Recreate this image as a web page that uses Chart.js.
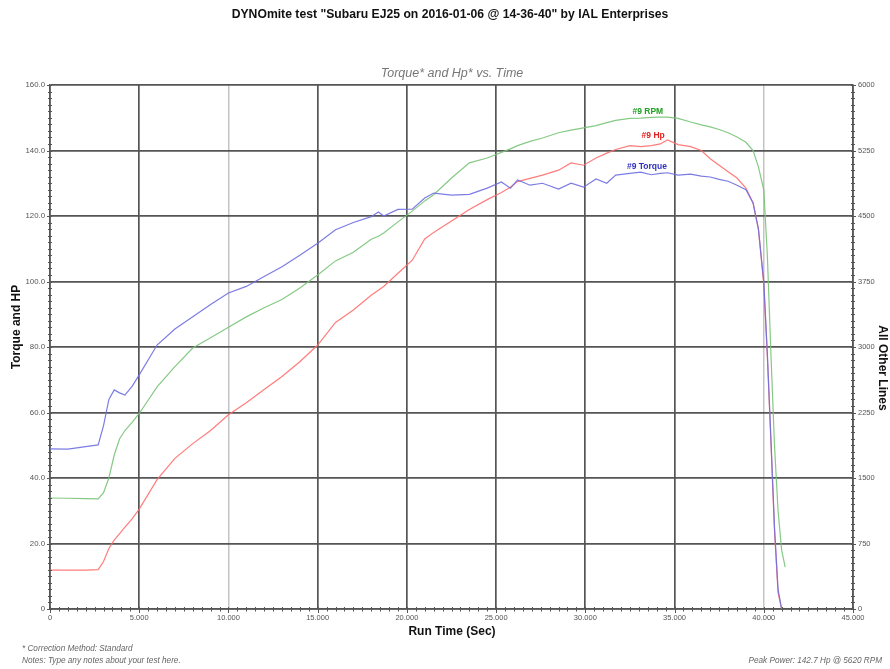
<!DOCTYPE html>
<html>
<head>
<meta charset="utf-8">
<script src="https://cdn.jsdelivr.net/npm/chart.js@4/dist/chart.umd.min.js"></script>
<style>
html,body{margin:0;padding:0;background:#fff;}
#wrap{width:890px;height:669px;position:relative;}
</style>
</head>
<body>
<div id="wrap"><canvas id="c" width="890" height="669"></canvas></div>
<script>
// ---- Data ----
const runTime = [0,1,2,2.7,3.0,3.3,3.6,3.9,4.2,4.6,5,6,7,8,9,10,11,12,13,14,15,16,17,18,18.4,18.7,19.5,20.3,21,21.5,22.5,23.5,24.5,25.3,25.8,26.2,26.9,27.6,28.5,29.2,29.9,30.6,31.2,31.7,32.5,33.1,33.7,34.2,34.6,35.2,35.9,36.5,37,37.5,38,38.5,39,39.4,39.7,40,40.2,40.4,40.6,40.8,41,41.2];
const torque = [48.9,48.8,49.6,50.1,56,64,66.9,66.0,65.3,68,71.5,80.6,85.5,89.2,93,96.5,98.5,101.5,104.5,108,111.7,115.8,118,119.8,121.2,120,122,122.1,125.5,127,126.4,126.6,128.5,130.4,128.5,131,129.4,130,128.2,130,128.8,131.3,130,132.5,133,133.4,132.6,133,133.2,132.5,132.8,132.2,131.9,131.2,130.6,129.4,128,124,116,100,78,52,25,6,0,null];
const hp = [11.9,11.9,11.9,12,14.5,18.5,21,23,25,27.5,30.5,39.5,46,50.5,54.5,59.3,63,67,71,75.5,80.6,87.5,91.3,95.8,97.3,98.5,102.5,106.5,113,115,118.5,122,125,127.2,128.8,130.5,131.5,132.5,134,136.2,135.5,137.7,139.2,140.3,141.5,141.2,141.5,142,143.2,141.8,141.2,140,137.5,135.5,133.5,131.6,128.5,124,116,99,77,51,24,5,0,null];
const rpm = [1271,1268,1264,1260,1331,1500,1763,1950,2044,2138,2239,2543,2775,2989,3105,3225,3345,3450,3544,3675,3825,3986,4084,4234,4268,4305,4433,4556,4673,4744,4935,5108,5164,5228,5269,5306,5355,5393,5453,5483,5509,5535,5569,5595,5618,5621,5629,5633,5633,5618,5576,5543,5520,5490,5453,5404,5344,5250,5063,4800,4050,2925,1875,1125,675,480];
const leftTicks = [0,20,40,60,80,100,120,140,160];
const rightTicks = [0,750,1500,2250,3000,3750,4500,5250,6000];
const timeTicks = [0,5,10,15,20,25,30,35,40,45];
const seriesNames = ["#9 Torque","#9 Hp","#9 RPM"];
const labelPos = [[33.45,135],[33.8,144.4],[33.5,152]]; // [time, left-axis value] for series labels

const FONT = "'Liberation Sans', Arial, sans-serif";
const pts = (ys) => runTime.map((t,i)=>({x:t,y:ys[i]}));

const overlay = {
  id:'overlay',
  afterDraw(chart){
    const ctx = chart.ctx;
    const xs = chart.scales.x, yl = chart.scales.y;
    const a = chart.chartArea;
    ctx.save();
    // minor/major tick marks
    ctx.strokeStyle = '#555'; ctx.lineWidth = 1;
    ctx.beginPath();
    for (let v=0; v<=160.001; v+=2){
      const y = Math.round(yl.getPixelForValue(v))+0.5;
      const major = Math.abs(v/20 - Math.round(v/20))<1e-6;
      ctx.moveTo(a.left-(major?3:2), y); ctx.lineTo(a.left+2, y);
      ctx.moveTo(a.right-2, y); ctx.lineTo(a.right+(major?3:2), y);
    }
    for (let t=0; t<=45.001; t+=0.5){
      const x = Math.round(xs.getPixelForValue(t))+0.5;
      const major = Math.abs(t/5 - Math.round(t/5))<1e-6;
      ctx.moveTo(x, a.bottom-2); ctx.lineTo(x, a.bottom+(major?4:2.5));
    }
    ctx.stroke();
    // series labels
    const cols = ['#3030c0','#e02020','#20a020'];
    ctx.font = 'bold 8.5px '+FONT; ctx.textAlign='center'; ctx.textBaseline='middle';
    seriesNames.forEach((n,i)=>{
      ctx.fillStyle = cols[i];
      ctx.fillText(n, xs.getPixelForValue(labelPos[i][0]), yl.getPixelForValue(labelPos[i][1]));
    });
    // titles
    ctx.fillStyle = '#111';
    ctx.font = 'bold 12.2px '+FONT; ctx.textAlign='center';
    ctx.fillText('DYNOmite test "Subaru EJ25 on 2016-01-06 @ 14-36-40" by IAL Enterprises', 450, 15);
    ctx.fillStyle = '#777';
    ctx.font = 'italic 12.5px '+FONT;
    ctx.fillText('Torque* and Hp* vs. Time', 452, 74);
    ctx.fillStyle = '#111';
    ctx.font = 'bold 12px '+FONT;
    ctx.fillText('Run Time (Sec)', 452, 632);
    ctx.save(); ctx.translate(17, 327); ctx.rotate(-Math.PI/2);
    ctx.fillText('Torque and HP', 0, 0); ctx.restore();
    ctx.save(); ctx.translate(882, 368); ctx.rotate(Math.PI/2);
    ctx.fillText('All Other Lines', 0, 0); ctx.restore();
    // footer
    ctx.fillStyle = '#666';
    ctx.font = 'italic 8.2px '+FONT; ctx.textAlign='left';
    ctx.fillText('* Correction Method: Standard', 22, 649);
    ctx.fillText('Notes: Type any notes about your test here.', 22, 661);
    ctx.textAlign='right';
    ctx.fillText('Peak Power: 142.7 Hp @ 5620 RPM', 882, 661);
    ctx.restore();
  }
};

new Chart(document.getElementById('c'), {
  type:'line',
  data:{
    datasets:[
      {label:seriesNames[0], data:pts(torque), yAxisID:'y', borderColor:'rgba(110,110,225,0.9)', borderWidth:1.2, pointRadius:0, tension:0},
      {label:seriesNames[1], data:pts(hp), yAxisID:'y', borderColor:'rgba(255,110,110,0.9)', borderWidth:1.2, pointRadius:0, tension:0},
      {label:seriesNames[2], data:pts(rpm), yAxisID:'y2', borderColor:'rgba(120,195,120,0.9)', borderWidth:1.2, pointRadius:0, tension:0}
    ]
  },
  options:{
    responsive:false, animation:false,
    layout:{padding:{top:85,left:0,right:0,bottom:0}},
    plugins:{legend:{display:false}, tooltip:{enabled:false}, title:{display:false}},
    scales:{
      x:{type:'linear', min:0, max:45,
        afterFit(s){ s.height = 60; },
        afterBuildTicks(s){ s.ticks = timeTicks.map(v=>({value:v})); },
        ticks:{autoSkip:false, maxRotation:0, padding:4, color:'#555', font:{size:7.5, family:FONT},
          callback:(v)=> v===0 ? '0' : Number(v).toFixed(3)},
        grid:{drawTicks:false,
          color:(c)=> (c.tick && (c.tick.value===10 || c.tick.value===40)) ? '#c4c4c4' : '#555',
          lineWidth:(c)=> (c.tick && (c.tick.value===10 || c.tick.value===40)) ? 1.5 : 1.7},
        border:{color:'#555', width:1.5}
      },
      y:{type:'linear', position:'left', min:0, max:160,
        afterFit(s){ s.width = 50; },
        afterBuildTicks(s){ s.ticks = leftTicks.map(v=>({value:v})); },
        ticks:{autoSkip:false, padding:5, color:'#555', font:{size:7.8, family:FONT},
          callback:(v)=> v===0 ? '0' : Number(v).toFixed(1)},
        grid:{drawTicks:false, color:'#555', lineWidth:1.7},
        border:{color:'#555', width:1.5}
      },
      y2:{type:'linear', position:'right', min:0, max:6000,
        afterFit(s){ s.width = 37; },
        afterBuildTicks(s){ s.ticks = rightTicks.map(v=>({value:v})); },
        ticks:{autoSkip:false, padding:5, color:'#555', font:{size:7.5, family:FONT},
          callback:(v)=> String(v)},
        grid:{drawOnChartArea:false, drawTicks:false},
        border:{color:'#555', width:1.5}
      }
    }
  },
  plugins:[overlay]
});
</script>
</body>
</html>
